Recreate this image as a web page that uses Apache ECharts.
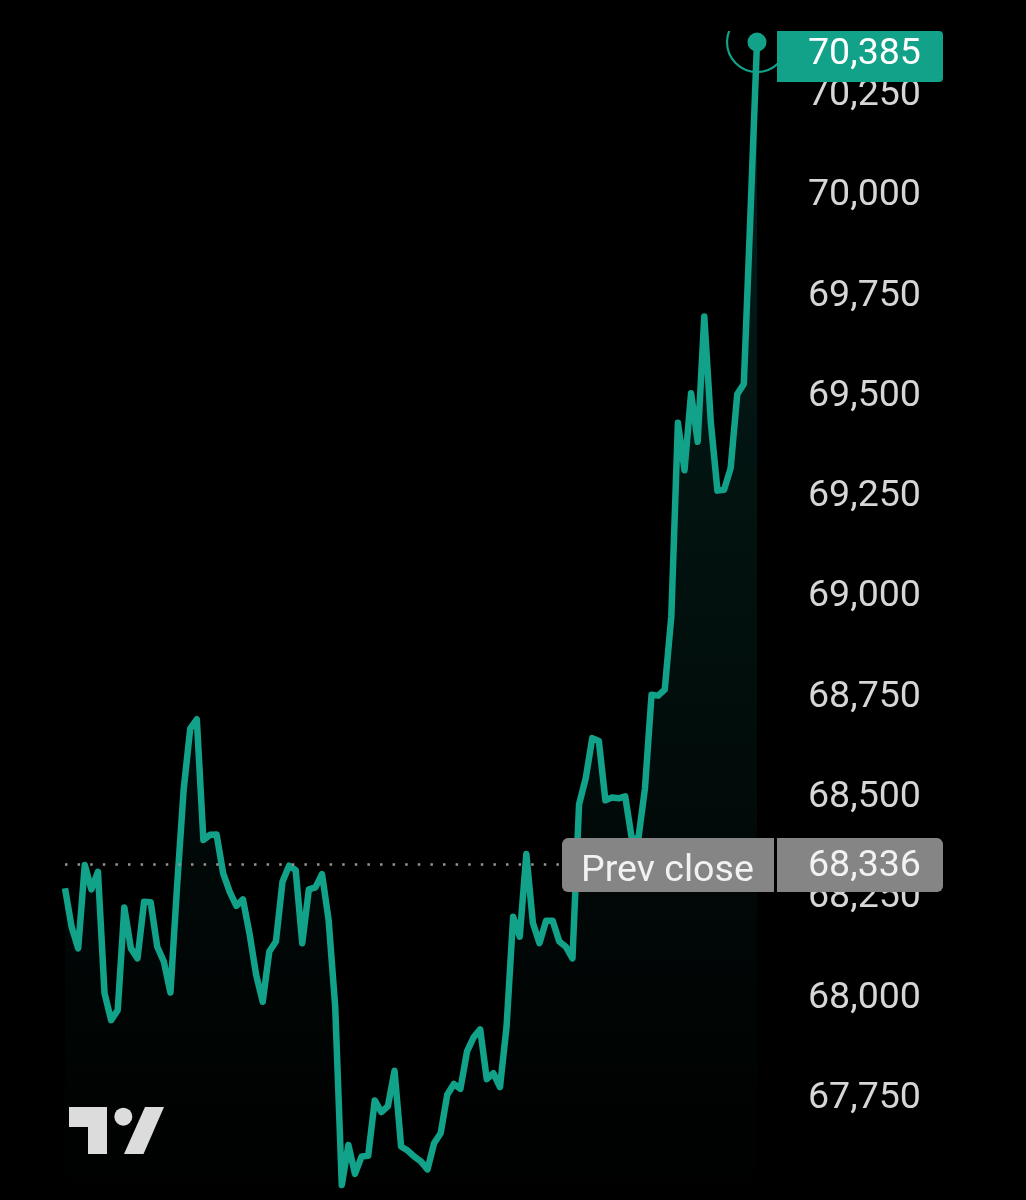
<!DOCTYPE html>
<html>
<head>
<meta charset="utf-8">
<title>Price chart</title>
<script src="https://cdn.jsdelivr.net/npm/echarts@6/dist/echarts.min.js"></script>
<style>
  html, body { margin: 0; padding: 0; background: #000; }
  #main { width: 1026px; height: 1200px; }
</style>
</head>
<body>
<div id="main"></div>
<script>
var prices = [
  68276, 68180, 68126, 68334, 68273, 68317, 68014, 67947, 67972, 68228,
  68126, 68101, 68242, 68241, 68130, 68093, 68016, 68280, 68521, 68674,
  68697, 68396, 68409, 68410, 68313, 68267, 68232, 68248, 68163, 68060,
  67993, 68118, 68143, 68292, 68332, 68321, 68139, 68273, 68278, 68311,
  68197, 67981, 67536, 67636, 67564, 67607, 67609, 67747, 67718, 67733,
  67821, 67632, 67622, 67607, 67595, 67575, 67640, 67665, 67761, 67788,
  67776, 67869, 67904, 67924, 67800, 67815, 67780, 67931, 68205, 68155,
  68361, 68189, 68139, 68195, 68195, 68143, 68130, 68101, 68485, 68549,
  68650, 68643, 68495, 68502, 68500, 68505, 68400, 68400, 68525, 68758,
  68756, 68771, 68954, 69436, 69318, 69510, 69389, 69701, 69436, 69267,
  69269, 69323, 69507, 69533, 69954, 70385
];
var categories = prices.map(function (p, i) { return String(i); });
var lastPrice = 70385;
var prevClose = 68336;
var prevCloseLabel = 'Prev close';

var TEAL = '#12A189';
var FONT = 'Roboto';

var myChart = echarts.init(document.getElementById('main'));

function fmt(v) {
  return Number(v).toLocaleString('en-US');
}

var option = {
  backgroundColor: '#000',
  animation: false,
  grid: { left: 65, right: 269, top: 0, height: 1199.5 },
  xAxis: {
    type: 'category',
    boundaryGap: false,
    data: categories,
    show: false
  },
  yAxis: {
    type: 'value',
    position: 'right',
    min: 67500,
    max: 70490,
    interval: 250,
    splitLine: { show: false },
    axisLine: { show: false },
    axisTick: { show: false },
    axisLabel: {
      showMinLabel: false,
      showMaxLabel: false,
      margin: 51,
      align: 'left',
      verticalAlign: 'bottom',
      lineHeight: 1.5,
      color: '#d6d6d6',
      fontFamily: FONT,
      fontSize: 37.6,
      formatter: fmt
    }
  },
  series: [
    {
      type: 'line',
      data: prices,
      showSymbol: false,
      smooth: false,
      lineStyle: { color: TEAL, width: 6.5, join: 'round' },
      areaStyle: {
        color: new echarts.graphic.LinearGradient(0, 0, 0, 1, [
          { offset: 0, color: 'rgba(18,161,137,0.28)' },
          { offset: 1, color: 'rgba(18,161,137,0)' }
        ])
      },
      markLine: {
        silent: true,
        symbol: 'none',
        label: { show: false },
        lineStyle: { color: '#9c9292', type: [2.5, 10.1], width: 2.5 },
        data: [{ yAxis: prevClose }]
      }
    },
    {
      type: 'scatter',
      clip: false,
      symbolSize: 60,
      itemStyle: { color: 'rgba(0,0,0,0)', borderColor: TEAL, borderWidth: 2.2, opacity: 1 },
      data: [[categories[categories.length - 1], lastPrice]]
    },
    {
      type: 'scatter',
      clip: false,
      symbolSize: 19,
      itemStyle: { color: TEAL, opacity: 1 },
      data: [[categories[categories.length - 1], lastPrice]]
    }
  ]
};
myChart.setOption(option);

// price tags and logo sit on top of the chart
var py = myChart.convertToPixel({ yAxisIndex: 0 }, prevClose);
var tagText = { fontFamily: FONT, fontSize: 37.6, fill: '#f2f2f2', verticalAlign: 'middle' };

myChart.setOption({
  graphic: [
    // ring gets cut off at the top of the plot
    { type: 'rect', z: 100, shape: { x: 690, y: 0, width: 120, height: 31 }, style: { fill: '#000' } },
    { type: 'rect', z: 101, shape: { x: 777, y: 31, width: 166, height: 51, r: [0, 4, 4, 0] }, style: { fill: TEAL } },
    { type: 'text', z: 102, x: 808, y: 55, style: Object.assign({}, tagText, { text: fmt(lastPrice), fill: '#fff' }) },
    { type: 'rect', z: 101, shape: { x: 562, y: py - 26, width: 212, height: 54, r: [6, 0, 0, 6] }, style: { fill: '#858585' } },
    { type: 'text', z: 102, x: 581, y: py + 7, style: Object.assign({}, tagText, { text: prevCloseLabel }) },
    { type: 'rect', z: 101, shape: { x: 777, y: py - 26, width: 166, height: 54, r: [0, 6, 6, 0] }, style: { fill: '#858585' } },
    { type: 'text', z: 102, x: 808, y: py + 2, style: Object.assign({}, tagText, { text: fmt(prevClose) }) },
    // TradingView mark
    { type: 'polygon', z: 102, shape: { points: [[69, 1107], [107, 1107], [107, 1154], [88, 1154], [88, 1127], [69, 1127]] }, style: { fill: '#dcdcdc' } },
    { type: 'circle', z: 102, shape: { cx: 123.3, cy: 1116.7, r: 9 }, style: { fill: '#dcdcdc' } },
    { type: 'polygon', z: 102, shape: { points: [[145, 1107], [164, 1107], [143.5, 1154], [124, 1154]] }, style: { fill: '#dcdcdc' } }
  ]
});
</script>
</body>
</html>
